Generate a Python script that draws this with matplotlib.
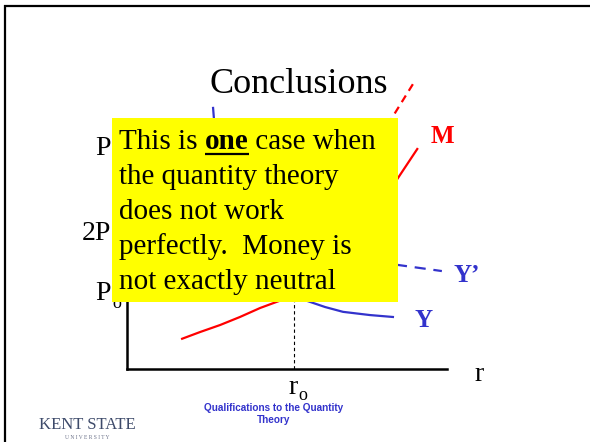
import matplotlib
matplotlib.use('Agg')
import matplotlib.pyplot as plt
from matplotlib.patches import Rectangle

plt.rcParams['font.family'] = ['Liberation Serif', 'DejaVu Serif']

# diagram curves, (r, P) in diagram units
m_r = [1.69, 2.28, 2.91, 3.53, 4.16, 4.84, 5.97, 7.28, 8.47, 9.09]
m_p = [0.93, 1.15, 1.37, 1.62, 1.90, 2.15, 2.77, 4.17, 5.95, 6.88]
m2_r = [6.66, 7.59, 8.28, 8.94]
m2_p = [4.64, 6.20, 7.82, 8.88]
y_r = [2.69, 2.78, 3.06, 4.00, 5.63, 6.19, 6.75, 7.59, 8.31]
y_p = [8.13, 7.00, 5.26, 3.08, 2.12, 1.93, 1.78, 1.68, 1.62]
y2_r = [6.66, 8.47, 9.84]
y2_p = [3.55, 3.24, 3.05]
r_o = 5.22
r_o_top = 2.2

# price levels on the vertical axis
p_levels = [6.66, 4.02, 2.15]
p_labels = ['P', '2P', 'P']

box_lines = ['the quantity theory', 'does not work',
             'perfectly.  Money is', 'not exactly neutral']

RED = '#ff0000'
BLUE = '#3333cc'
FS = 21

fig = plt.figure(figsize=(5.9, 4.42), dpi=100)
fig.patch.set_facecolor('white')

ax = fig.add_axes([127/590, 73/442, 320/590, 289/442])
ax.set_xlim(0, 10)
ax.set_ylim(0, 9)
ax.set_facecolor('none')
for s in ['top', 'right']:
    ax.spines[s].set_visible(False)
for s in ['left', 'bottom']:
    ax.spines[s].set_linewidth(1.8)
    ax.spines[s].set_color('black')
ax.spines['left'].set_bounds(0, 7.6)
ax.set_xticks([])
ax.set_yticks([])

ax.plot(m_r, m_p, color=RED, lw=1.6, solid_capstyle='butt')
ax.plot(m2_r, m2_p, color=RED, lw=1.6, linestyle=(0, (3.5, 2.5)))
ax.plot(y_r, y_p, color=BLUE, lw=1.6)
ax.plot(y2_r, y2_p, color=BLUE, lw=1.6, linestyle=(0, (5, 3.5)))
ax.plot([r_o, r_o], [0, r_o_top], color='black', lw=0.8, linestyle=(0, (3, 2.5)))

# axis labels
for lev, lab in zip(p_levels, p_labels):
    ax.annotate(lab, xy=(0, lev), xycoords='data', xytext=(-16, 0),
                textcoords='offset pixels', ha='right', va='baseline', fontsize=20)
ax.annotate('o', xy=(0, p_levels[2]), xycoords='data', xytext=(-15, -8),
            textcoords='offset pixels', ha='left', va='baseline', fontsize=13)
ax.annotate('r', xy=(r_o, 0), xycoords='data', xytext=(-1, -25),
            textcoords='offset pixels', ha='center', va='baseline', fontsize=20)
ax.annotate('o', xy=(r_o, 0), xycoords='data', xytext=(4, -31),
            textcoords='offset pixels', ha='left', va='baseline', fontsize=13)
ax.annotate('r', xy=(10, 0), xycoords='data', xytext=(27, -12),
            textcoords='offset pixels', ha='left', va='baseline', fontsize=20)

ax.text(9.5, 7.04, 'M', color=RED, fontsize=18, fontweight='bold', va='baseline')
ax.text(10.19, 2.71, 'Y\u2019', color=BLUE, fontsize=18, fontweight='bold', va='baseline')
ax.text(9.0, 1.31, 'Y', color=BLUE, fontsize=18, fontweight='bold', va='baseline')

# slide overlay in pixel units
ov = fig.add_axes([0, 0, 1, 1], zorder=5)
ov.set_xlim(0, 590)
ov.set_ylim(442, 0)
ov.axis('off')
ov.patch.set_visible(False)

ov.plot([4, 590], [6, 6], color='black', lw=1.6, solid_capstyle='butt')
ov.plot([5, 5], [5, 442], color='black', lw=1.6, solid_capstyle='butt')

ov.text(299, 93, 'Conclusions', ha='center', va='baseline', fontsize=26)

ov.add_patch(Rectangle((112, 118), 286, 184, facecolor='#ffff00', edgecolor='none'))

fig.canvas.draw()
renderer = fig.canvas.get_renderer()
x0 = 119
t1 = ov.text(x0, 149, 'This is ', va='baseline', fontsize=FS)
w1 = t1.get_window_extent(renderer).width
t2 = ov.text(x0 + w1, 149, 'one', va='baseline', fontsize=FS, fontweight='bold')
w2 = t2.get_window_extent(renderer).width
ov.plot([x0 + w1, x0 + w1 + w2], [154, 154], color='black', lw=1.6, solid_capstyle='butt')
ov.text(x0 + w1 + w2, 149, ' case when', va='baseline', fontsize=FS)
for i, line in enumerate(box_lines):
    ov.text(x0, 149 + 35 * (i + 1), line, va='baseline', fontsize=FS)

# footer
ov.text(274, 423, 'Qualifications to the Quantity\nTheory', ha='center', va='baseline',
        fontsize=7.2, fontweight='bold', color=BLUE, family='Liberation Sans',
        linespacing=1.3)
ov.text(87, 429, 'KENT STATE', ha='center', va='baseline', fontsize=12,
        color='#3d4a6a')
ov.text(87, 439, 'U N I V E R S I T Y', ha='center', va='baseline', fontsize=4,
        color='#6a7088')

fig.savefig('out.png', dpi=100)
